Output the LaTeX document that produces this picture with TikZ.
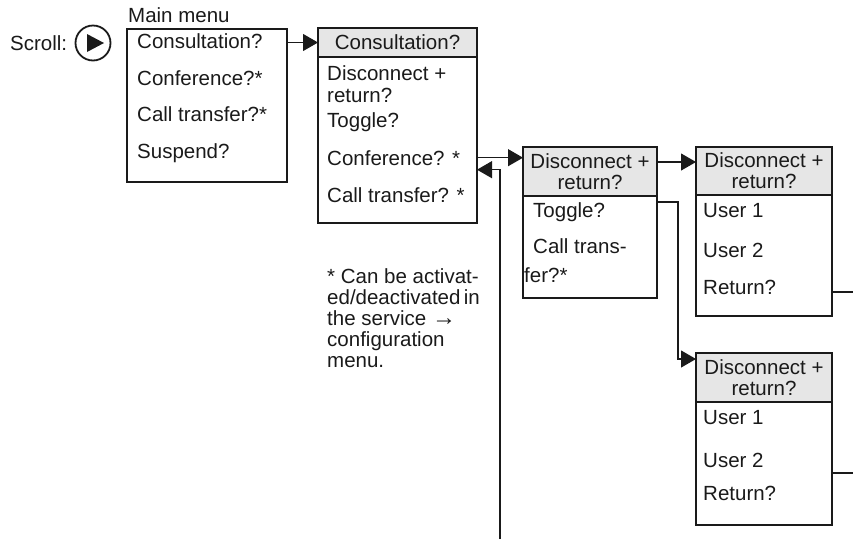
\documentclass[tikz,border=0pt]{standalone}
\usepackage{fontspec}
\setmainfont{Liberation Sans}
\usetikzlibrary{arrows.meta,positioning,calc}
\definecolor{hdrgray}{HTML}{E6E6E6}
\definecolor{inkgray}{HTML}{1A1A1A}

\begin{document}
\begin{tikzpicture}[x=1pt,y=-1pt,
  every node/.style={font=\fontsize{20.5}{21}\selectfont,text=inkgray},
  menubox/.style={rectangle,draw=inkgray,line width=1.1pt,anchor=north west,
                  inner sep=0pt,outer sep=0pt},
  hdrbox/.style={menubox,fill=hdrgray,align=center},
  item/.style={anchor=base west,inner sep=0pt},
  arr/.style={-{Triangle[length=15pt,width=17pt]},line width=1.1pt,inkgray},
  lnk/.style={line width=1.1pt,inkgray}
]
  \useasboundingbox (0,0) rectangle (853,539);

  % ---- Scroll key and main menu ------------------------------
  \node[item] (scrolltxt) at (10,50) {Scroll:};
  \node[circle,draw=inkgray,line width=1.8pt,minimum size=35pt,inner sep=0pt]
    (scrollkey) at (93,43) {};
  \fill[inkgray] ($(scrollkey.center)+(-6,-9)$) -- ++(0,18) -- ++(17,-9) -- cycle;

  \node[item] (mainttl) at (128,22) {Main menu};
  \node[menubox,minimum width=160pt,minimum height=153pt] (mainbox) at (127,29) {};
  \node[item] (mconsult) at (137,48)  {Consultation?};
  \node[item] (mconf)    at (137,85)  {Conference?*};
  \node[item] (mcall)    at (137,121) {Call transfer?*};
  \node[item] (msusp)    at (137,158) {Suspend?};

  % ---- Consultation menu -------------------------------------
  \node[menubox,minimum width=159pt,minimum height=195pt] (consbox) at (318,28) {};
  \node[hdrbox,minimum width=159pt,minimum height=29pt] (conshead) at (318,28)
    {Consultation?};
  \node[item] (cdisc)   at (327,80)  {Disconnect +};
  \node[item] (cret)    at (327,102) {return?};
  \node[item] (ctoggle) at (327,127) {Toggle?};
  \node[item] (cconf)   at (327,165) {Conference? *};
  \node[item] (ccall)   at (327,202) {Call transfer? *};

  % ---- Footnote ----------------------------------------------
  \node[anchor=north west,inner sep=0pt,align=left] (note) at (327,268)
    {* Can be activat-\\ed/deactivated\,in\\the service {\fontsize{24}{21}\selectfont\symbol{"2192}}\\configuration\\menu.};

  % ---- Disconnect + return menu ------------------------------
  \node[menubox,minimum width=134pt,minimum height=151pt] (discbox) at (523,147) {};
  \node[hdrbox,minimum width=134pt,minimum height=49pt] (dischead) at (523,147)
    {Disconnect +\\return?};
  \node[item] (dtoggle) at (533,217) {Toggle?};
  \node[item] (dcall)   at (533,253) {Call trans-};
  \node[item] (dcallb)  at (524,282) {fer?*};

  % ---- User menus --------------------------------------------
  \node[menubox,minimum width=136pt,minimum height=169pt] (uabox) at (696,147) {};
  \node[hdrbox,minimum width=136pt,minimum height=48pt] (uahead) at (696,147)
    {Disconnect +\\return?};
  \node[item] (uauser1) at (703,217) {User 1};
  \node[item] (uauser2) at (703,257) {User 2};
  \node[item] (uaret)   at (703,294) {Return?};

  \node[menubox,minimum width=136pt,minimum height=172pt] (ubbox) at (696,353) {};
  \node[hdrbox,minimum width=136pt,minimum height=49pt] (ubhead) at (696,353)
    {Disconnect +\\return?};
  \node[item] (ubuser1) at (703,424) {User 1};
  \node[item] (ubuser2) at (703,467) {User 2};
  \node[item] (ubret)   at (703,500) {Return?};

  % ---- Arrows ------------------------------------------------
  \coordinate (retfoot) at (500,539);
  \coordinate (uaexit) at (853,292);
  \coordinate (ubexit) at (853,473);

  \draw[arr] (mainbox.east |- conshead.center) -- (conshead.west);
  \draw[arr] (consbox.east |- cconf.center) -- (dischead.west |- cconf.center);
  \draw[arr] (retfoot) |- ($(consbox.east |- cconf.center)+(0,12)$);
  \draw[arr] ($(dischead.north east)+(0,15)$) -- ($(uahead.north west)+(0,15)$);
  \draw[arr] ($(dischead.south east)+(0,6)$) -- ++(21,0)
    |- ($(ubhead.north west)+(0,6)$);
  \draw[lnk] (uaexit -| uabox.east) -- (uaexit);
  \draw[lnk] (ubexit -| ubbox.east) -- (ubexit);

\end{tikzpicture}
\end{document}
